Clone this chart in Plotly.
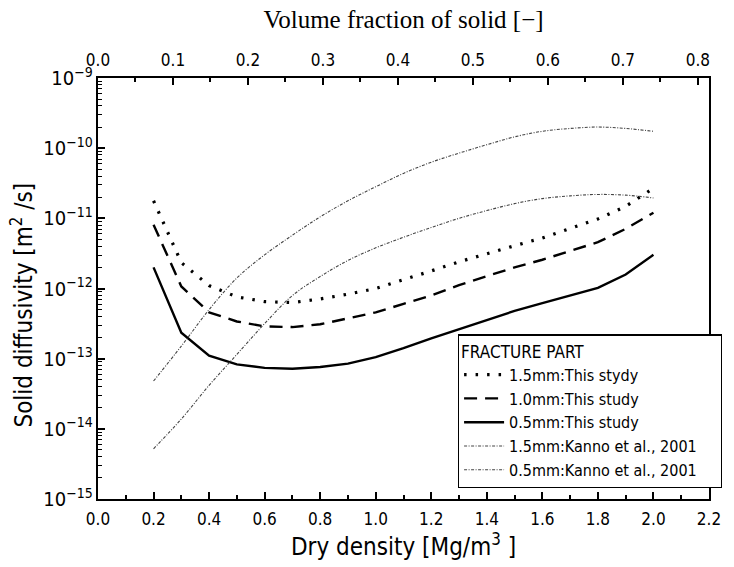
import plotly.graph_objects as go

# Dry density [Mg/m3]
dry_density = [0.2, 0.3, 0.4, 0.5, 0.6, 0.7, 0.8, 0.9, 1.0, 1.1,
               1.2, 1.3, 1.4, 1.5, 1.6, 1.7, 1.8, 1.9, 2.0]

# Solid diffusivity [m2/s]
d_15mm_this = [1.78e-11, 2.34e-12, 1.10e-12, 7.6e-13, 6.5e-13, 6.3e-13, 7.1e-13, 8.3e-13, 1.0e-12, 1.32e-12,
               1.78e-12, 2.40e-12, 3.16e-12, 4.07e-12, 5.25e-12, 7.08e-12, 9.8e-12, 1.48e-11, 2.69e-11]
d_10mm_this = [8.1e-12, 1.07e-12, 4.57e-13, 3.39e-13, 2.88e-13, 2.82e-13, 3.09e-13, 3.72e-13, 4.57e-13, 6.03e-13,
               7.94e-13, 1.12e-12, 1.51e-12, 2.0e-12, 2.57e-12, 3.39e-12, 4.57e-12, 7.08e-12, 1.20e-11]
d_05mm_this = [2.0e-12, 2.34e-13, 1.10e-13, 8.3e-14, 7.4e-14, 7.2e-14, 7.6e-14, 8.5e-14, 1.05e-13, 1.41e-13,
               1.95e-13, 2.63e-13, 3.55e-13, 4.79e-13, 6.17e-13, 7.94e-13, 1.02e-12, 1.58e-12, 3.02e-12]
d_15mm_kanno = [4.8e-14, 1.51e-13, 5.0e-13, 1.41e-12, 3.02e-12, 5.75e-12, 1.05e-11, 1.78e-11, 2.82e-11, 4.37e-11,
                6.31e-11, 8.5e-11, 1.12e-10, 1.45e-10, 1.74e-10, 1.91e-10, 2.0e-10, 1.91e-10, 1.74e-10]
d_05mm_kanno = [5.2e-15, 1.38e-14, 4.17e-14, 1.15e-13, 3.16e-13, 7.94e-13, 1.48e-12, 2.51e-12, 3.8e-12, 5.37e-12,
                7.4e-12, 1.0e-11, 1.29e-11, 1.62e-11, 1.91e-11, 2.09e-11, 2.19e-11, 2.14e-11, 1.95e-11]

series_names = ["1.5mm:This stydy", "1.0mm:This study", "0.5mm:This study",
                "1.5mm:Kanno et al., 2001", "0.5mm:Kanno et al., 2001"]

particle_density = 2.7
x_range = [0.0, 2.2]

TICK_FONT = "Liberation Sans Narrow, DejaVu Sans Condensed, Roboto Condensed, Liberation Sans, Arial, sans-serif"
SANS = "Liberation Sans Narrow, DejaVu Sans Condensed, Liberation Sans, Arial, sans-serif"
SERIF = "Liberation Serif, DejaVu Serif, serif"

KANNO_DASH = "3px,1.5px,1px,1.5px"
PAD = "\u00a0" * 4  # pads the legend box to the right, like the reference

fig = go.Figure()

fig.add_trace(go.Scatter(x=dry_density, y=d_15mm_this, mode="lines",
                         name=series_names[0],
                         line=dict(color="black", width=3.2, dash="2.5px,9px")))
fig.add_trace(go.Scatter(x=dry_density, y=d_10mm_this, mode="lines",
                         name=series_names[1],
                         line=dict(color="black", width=2.4, dash="13px,8px")))
fig.add_trace(go.Scatter(x=dry_density, y=d_05mm_this, mode="lines",
                         name=series_names[2],
                         line=dict(color="black", width=2.4)))
fig.add_trace(go.Scatter(x=dry_density, y=d_15mm_kanno, mode="lines",
                         name=series_names[3] + PAD,
                         line=dict(color="#444444", width=1.1, dash=KANNO_DASH, shape="spline")))
fig.add_trace(go.Scatter(x=dry_density, y=d_05mm_kanno, mode="lines",
                         name=series_names[4] + PAD,
                         line=dict(color="#444444", width=1.1, dash=KANNO_DASH, shape="spline")))

# invisible trace to activate the top (volume fraction) axis
fig.add_trace(go.Scatter(x=[x_range[0] / particle_density, x_range[1] / particle_density],
                         y=[1e-9, 1e-9], mode="markers", marker=dict(opacity=0),
                         xaxis="x2", showlegend=False, hoverinfo="skip"))

fig.update_layout(
    width=734, height=567,
    margin=dict(l=98, r=23, t=78, b=68),
    paper_bgcolor="white", plot_bgcolor="white",
    showlegend=True,
    xaxis=dict(
        range=x_range, dtick=0.2, tick0=0, tickformat=".1f",
        ticks="inside", ticklen=7, tickwidth=1.5, tickcolor="black",
        minor=dict(dtick=0.1, ticks="inside", ticklen=4, tickwidth=1.5, tickcolor="black", showgrid=False),
        showline=True, linecolor="black", linewidth=2, mirror=False,
        showgrid=False, zeroline=False,
        tickfont=dict(family=TICK_FONT, size=17, color="black"),
        ticklabelstandoff=4,
        title=dict(text="Dry density [Mg/m<sup>3</sup> ]", font=dict(family=SANS, size=24, color="black"),
                   standoff=8),
        automargin=False,
    ),
    xaxis2=dict(
        overlaying="x", side="top",
        range=[x_range[0] / particle_density, x_range[1] / particle_density],
        dtick=0.1, tick0=0, tickformat=".1f",
        ticks="inside", ticklen=7, tickwidth=1.5, tickcolor="black",
        minor=dict(dtick=0.05, ticks="inside", ticklen=4, tickwidth=1.5, tickcolor="black", showgrid=False),
        showline=True, linecolor="black", linewidth=2,
        showgrid=False, zeroline=False,
        tickfont=dict(family=TICK_FONT, size=17, color="black"),
        ticklabelstandoff=3,
        title=dict(text="Volume fraction of solid [−]", font=dict(family=SERIF, size=25, color="black"),
                   standoff=14),
        automargin=False,
    ),
    yaxis=dict(
        type="log", range=[-15, -9], dtick=1,
        exponentformat="power", showexponent="all",
        ticks="inside", ticklen=7, tickwidth=1.5, tickcolor="black",
        minor=dict(dtick="D1", ticks="inside", ticklen=4, tickwidth=1, tickcolor="black", showgrid=False),
        showline=True, linecolor="black", linewidth=2, mirror=True,
        showgrid=False, zeroline=False,
        tickfont=dict(family=TICK_FONT, size=16, color="black"),
        automargin=False,
    ),
    annotations=[dict(
        text="Solid diffusivity [m<sup>2</sup> /s]", textangle=-90,
        xref="paper", yref="paper", x=-0.124, y=0.46,
        xanchor="center", yanchor="middle", showarrow=False,
        font=dict(family=SANS, size=24, color="black"),
    )],
    legend=dict(
        x=0.589, y=0.391, xanchor="left", yanchor="top",
        bgcolor="white", bordercolor="black", borderwidth=1.2,
        font=dict(family=SANS, size=16, color="black"),
        title=dict(text="FRACTURE PART", font=dict(family=SANS, size=17, color="black")),
        tracegroupgap=0, itemwidth=40,
    ),
)

fig.write_html("out.html")
